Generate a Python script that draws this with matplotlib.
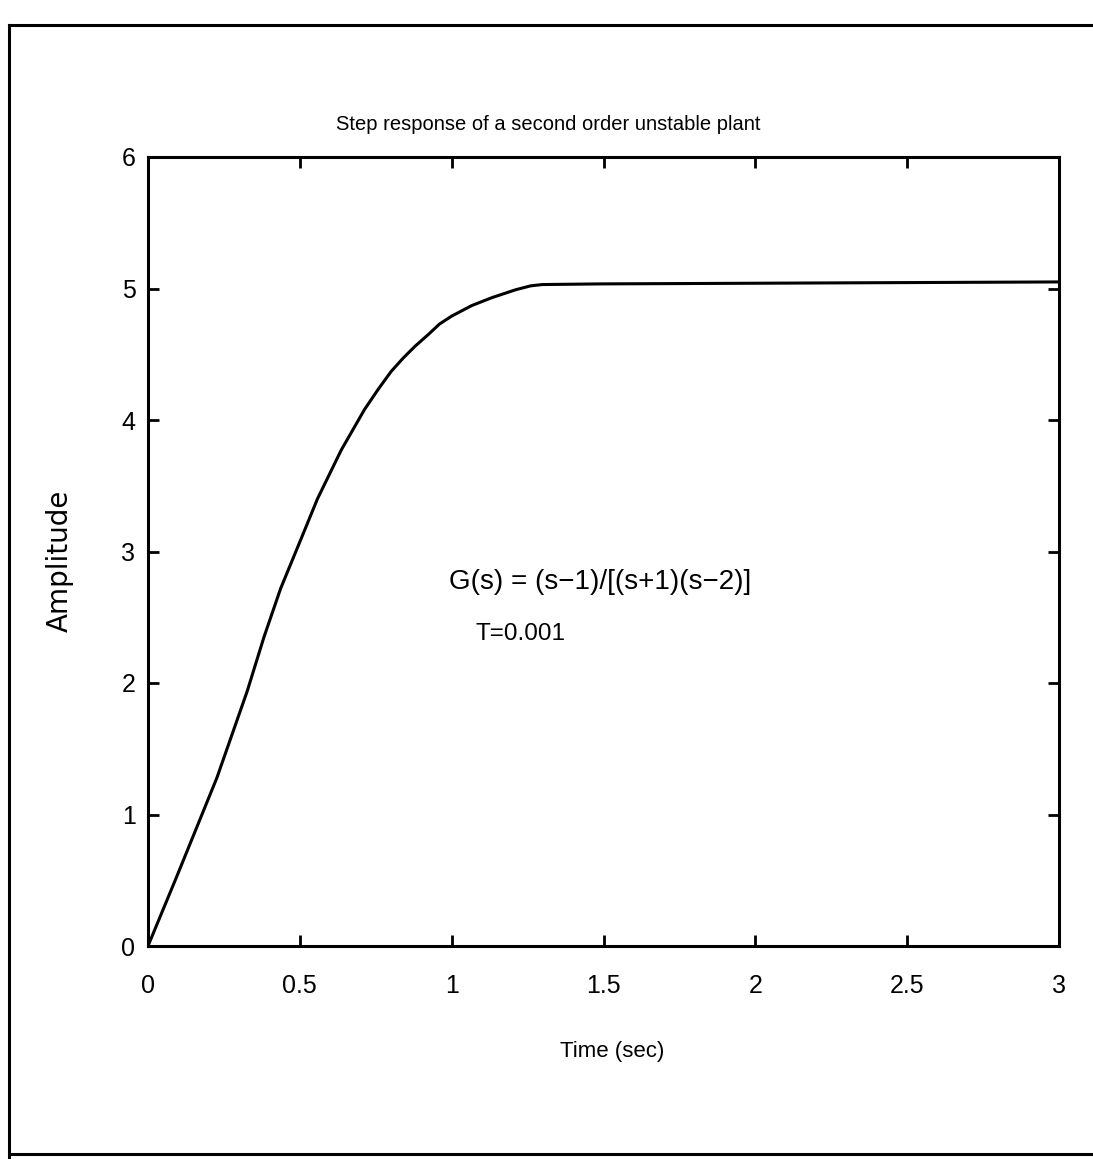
import matplotlib
matplotlib.use("Agg")
import matplotlib.pyplot as plt
from matplotlib.lines import Line2D

# ---- data ----
time_s = [0.0, 0.095, 0.227, 0.327, 0.382, 0.437, 0.503, 0.558, 0.636, 0.713,
          0.760, 0.801, 0.840, 0.879, 0.923, 0.960, 1.0, 1.066, 1.132, 1.21, 1.26,
          1.298, 1.49, 2.0, 2.5, 3.0]
amplitude = [0.0, 0.53, 1.28, 1.94, 2.35, 2.72, 3.09, 3.40, 3.77, 4.08,
             4.24, 4.37, 4.47, 4.56, 4.65, 4.73, 4.79, 4.87, 4.93, 4.99, 5.02,
             5.03, 5.035, 5.04, 5.045, 5.05]
x_ticks = [0, 0.5, 1, 1.5, 2, 2.5, 3]
x_tick_labels = ["0", "0.5", "1", "1.5", "2", "2.5", "3"]
y_ticks = [0, 1, 2, 3, 4, 5, 6]
y_tick_labels = ["0", "1", "2", "3", "4", "5", "6"]
title = "Step response of a second order unstable plant"
xlabel = "Time (sec)"
ylabel = "Amplitude"
note1 = "G(s) = (s\u22121)/[(s+1)(s\u22122)]"
note2 = "T=0.001"

NARROW = ["Liberation Sans", "DejaVu Sans"]

W, H = 1093, 1159
fig = plt.figure(figsize=(W / 100, H / 100), dpi=100)
fig.patch.set_facecolor("white")

def fx(px):
    return px / W
def fy(py):
    return 1 - py / H

# outer frame (left, top, bottom lines)
fig.add_artist(Line2D([fx(9), fx(1093)], [fy(25), fy(25)], color="black", lw=2.2, transform=fig.transFigure))
fig.add_artist(Line2D([fx(9), fx(9)], [fy(25), fy(1159)], color="black", lw=2.2, transform=fig.transFigure))
fig.add_artist(Line2D([fx(9), fx(1093)], [fy(1154), fy(1154)], color="black", lw=2.2, transform=fig.transFigure))

left, right, top, bottom = 148, 1059, 157, 946
ax = fig.add_axes([left / W, 1 - bottom / H, (right - left) / W, (bottom - top) / H])
ax.plot(time_s, amplitude, color="black", lw=2.2, solid_joinstyle="round")
ax.set_xlim(0, 3)
ax.set_ylim(0, 6)
ax.set_xticks(x_ticks)
ax.set_xticklabels(x_tick_labels, family=NARROW, fontsize=18)
ax.set_yticks(y_ticks)
ax.set_yticklabels(y_tick_labels, family=NARROW, fontsize=18)
ax.tick_params(direction="in", length=8, width=2, top=True, right=True)
ax.tick_params(axis="x", pad=20)
ax.tick_params(axis="y", pad=9)
for s in ax.spines.values():
    s.set_linewidth(2.2)

fig.text(548 / W, fy(124), title, ha="center", va="center", family=NARROW, fontsize=14.5)
fig.text(612 / W, fy(1052), xlabel, ha="center", va="center", family=NARROW, fontsize=16)
fig.text(60 / W, fy(561), ylabel, ha="center", va="center", rotation=90,
         family=["DejaVu Sans"], fontsize=20)

ax.text(0.99, 2.77, note1, ha="left", va="center", family=NARROW, fontsize=20)
ax.text(1.08, 2.37, note2, ha="left", va="center", family=NARROW, fontsize=17.5)

fig.savefig("out.png", dpi=100, facecolor="white")
